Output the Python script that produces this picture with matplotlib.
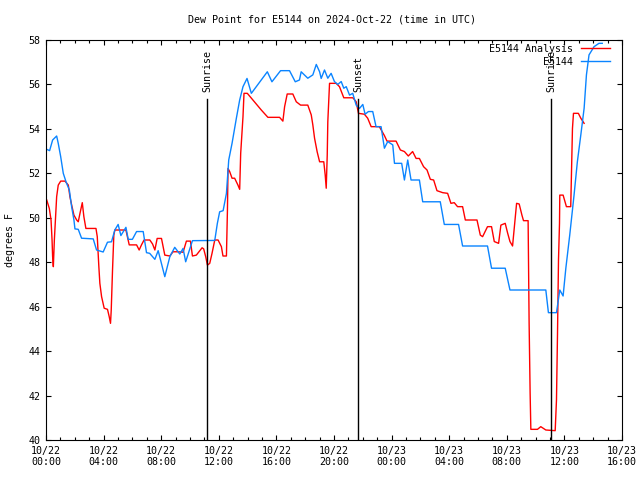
import matplotlib
matplotlib.use("Agg")
from matplotlib import pyplot as plt
from matplotlib.ticker import MultipleLocator

# hours since 2024-10-22 00:00 UTC
obs_hours = [0.05, 0.25, 0.46, 0.74, 0.85, 1.02, 1.2, 1.39, 1.62, 1.78,
             1.94, 2.01, 2.24, 2.47, 3.28, 3.51, 3.97, 4.27, 4.55, 4.78,
             5.01, 5.2, 5.55, 5.71, 6.0, 6.29, 6.75, 6.98, 7.2, 7.56,
             7.79, 8.25, 8.6, 8.94, 9.29, 9.52, 9.7, 10.17, 11.72, 11.9,
             12.06, 12.3, 12.53, 12.69, 12.92, 13.22, 13.45, 13.68, 13.96, 14.26,
             15.37, 15.69, 16.29, 16.91, 17.31, 17.6, 17.72, 18.18, 18.53, 18.77,
             19.0, 19.11, 19.34, 19.57, 19.8, 20.03, 20.26, 20.5, 20.68, 20.85,
             21.08, 21.3, 21.54, 21.77, 22.0, 22.16, 22.39, 22.69, 22.92, 23.27,
             23.5, 23.73, 24.08, 24.2, 24.7, 24.89, 25.12, 25.35, 25.93, 26.16,
             27.38, 27.66, 28.65, 28.93, 30.66, 30.94, 31.89, 32.22, 34.71, 34.89,
             35.45, 35.68, 35.91, 36.1, 36.37, 36.67, 36.9, 37.14, 37.37, 37.53,
             37.71, 38.06, 38.4, 38.63]
obs_dewpt = [53.08, 53.02, 53.5, 53.68, 53.35, 52.75, 52.0, 51.62, 51.25, 50.5,
             49.9, 49.5, 49.48, 49.08, 49.05, 48.55, 48.46, 48.9, 48.92, 49.45,
             49.7, 49.2, 49.57, 49.03, 49.03, 49.38, 49.38, 48.43, 48.4, 48.13,
             48.52, 47.35, 48.25, 48.67, 48.37, 48.62, 48.02, 48.97, 48.98, 49.75,
             50.27, 50.32, 51.1, 52.6, 53.35, 54.48, 55.3, 55.9, 56.27, 55.6,
             56.57, 56.12, 56.62, 56.62, 56.12, 56.2, 56.57, 56.28, 56.43, 56.9,
             56.57, 56.27, 56.65, 56.28, 56.5, 56.13, 56.0, 56.13, 55.83, 55.9,
             55.52, 55.6, 55.07, 54.92, 55.1, 54.66, 54.78, 54.78, 54.1, 54.1,
             53.13, 53.43, 53.28, 52.45, 52.45, 51.7, 52.6, 51.7, 51.7, 50.72,
             50.72, 49.7, 49.7, 48.73, 48.73, 47.73, 47.73, 46.75, 46.75, 45.73,
             45.73, 46.75, 46.48, 47.73, 49.22, 51.02, 52.52, 53.73, 54.93, 56.43,
             57.33, 57.7, 57.85, 57.85]

ana_hours = [0.05, 0.23, 0.35, 0.42, 0.46, 0.51, 0.58, 0.67, 0.74, 0.85,
             1.02, 1.32, 1.55, 1.66, 1.78, 1.94, 2.13, 2.24, 2.36, 2.52,
             2.63, 2.77, 3.47, 3.56, 3.67, 3.74, 3.86, 4.04, 4.27, 4.39,
             4.48, 4.53, 4.62, 4.71, 4.78, 5.55, 5.65, 5.78, 6.29, 6.47,
             6.63, 6.81, 7.21, 7.4, 7.56, 7.72, 8.02, 8.25, 8.6, 8.82,
             9.17, 9.52, 9.75, 10.03, 10.17, 10.44, 10.84, 10.95, 11.09, 11.21,
             11.37, 11.53, 11.72, 11.95, 12.18, 12.29, 12.53, 12.6, 12.64, 12.76,
             12.92, 13.1, 13.33, 13.45, 13.52, 13.68, 13.75, 13.98, 14.37, 14.95,
             15.41, 16.22, 16.45, 16.57, 16.75, 17.14, 17.38, 17.68, 18.18, 18.42,
             18.53, 18.65, 18.83, 19.0, 19.29, 19.39, 19.46, 19.53, 19.57, 19.69,
             20.15, 20.38, 20.68, 21.31, 21.54, 21.7, 22.11, 22.34, 22.58, 23.15,
             23.5, 23.68, 24.31, 24.61, 24.89, 25.16, 25.46, 25.7, 25.93, 26.22,
             26.46, 26.69, 26.92, 27.15, 27.55, 27.89, 28.12, 28.35, 28.58, 28.93,
             29.12, 29.93, 30.16, 30.32, 30.66, 30.94, 31.13, 31.43, 31.59, 31.89,
             32.05, 32.22, 32.4, 32.56, 32.68, 32.86, 33.05, 33.16, 33.48, 33.55,
             33.62, 33.67, 34.13, 34.36, 34.71, 35.36, 35.45, 35.52, 35.59, 35.66,
             35.68, 35.91, 36.14, 36.44, 36.51, 36.56, 36.63, 36.97, 37.14, 37.37]
ana_dewpt = [50.8, 50.42, 49.9, 49.0, 48.25, 47.8, 49.0, 50.05, 50.95, 51.47,
             51.65, 51.65, 51.47, 50.95, 50.58, 50.12, 49.9, 49.82, 50.2, 50.68,
             50.05, 49.52, 49.52, 49.15, 47.8, 47.05, 46.45, 45.93, 45.88, 45.55,
             45.25, 45.85, 47.65, 49.22, 49.45, 49.45, 49.15, 48.78, 48.78, 48.55,
             48.78, 49.0, 49.0, 48.82, 48.55, 49.07, 49.07, 48.32, 48.28, 48.47,
             48.47, 48.45, 48.95, 48.95, 48.28, 48.32, 48.65, 48.6, 48.25, 47.87,
             47.95, 48.4, 49.0, 49.0, 48.7, 48.28, 48.28, 50.35, 52.22, 52.07,
             51.78, 51.78, 51.47, 51.28, 52.9, 54.55, 55.6, 55.6, 55.3, 54.85,
             54.52, 54.52, 54.35, 55.0, 55.57, 55.57, 55.22, 55.07, 55.07, 54.63,
             54.18, 53.58, 52.97, 52.52, 52.52, 51.92, 51.33, 52.82, 54.32, 56.05,
             56.05, 55.9, 55.4, 55.4, 55.22, 54.7, 54.66, 54.48, 54.1, 54.1,
             53.7, 53.45, 53.45, 53.05, 52.98, 52.78, 52.98, 52.67, 52.67, 52.3,
             52.15, 51.73, 51.7, 51.22, 51.13, 51.1, 50.65, 50.68, 50.5, 50.5,
             49.9, 49.9, 49.22, 49.15, 49.6, 49.6, 48.93, 48.85, 49.67, 49.75,
             49.33, 48.93, 48.73, 49.82, 50.65, 50.62, 50.12, 49.87, 49.87, 45.25,
             42.1, 40.48, 40.48, 40.6, 40.45, 40.42, 41.8, 44.73, 48.1, 49.75,
             51.02, 51.02, 50.5, 50.5, 52.52, 54.02, 54.7, 54.7, 54.48, 54.25]

event_hours = [11.2, 21.7, 35.1]
event_names = ["Sunrise", "Sunset", "Sunrise"]

tick_hours = [0, 4, 8, 12, 16, 20, 24, 28, 32, 36, 40]
tick_labels = ["10/22\n00:00", "10/22\n04:00", "10/22\n08:00", "10/22\n12:00",
               "10/22\n16:00", "10/22\n20:00", "10/23\n00:00", "10/23\n04:00",
               "10/23\n08:00", "10/23\n12:00", "10/23\n16:00"]

fs = 7.2
plt.rcParams['font.family'] = ['DejaVu Sans Mono']
plt.rcParams['font.size'] = fs

fig = plt.figure(figsize=(6.4, 4.8), dpi=100)
ax = fig.add_axes([46/640, 40/480, 576/640, 400/480])

ax.plot(ana_hours, ana_dewpt, color='#ff0000', lw=1.0, label='E5144 Analysis')
ax.plot(obs_hours, obs_dewpt, color='#0a84ff', lw=1.0, label='E5144')

for h, name in zip(event_hours, event_names):
    ax.plot([h, h], [55.35, 40], color='black', lw=1.0)
    ax.text(h, 55.66, name, rotation=90, ha='center', va='bottom', fontsize=fs)

ax.set_xlim(0, 40)
ax.set_ylim(40, 58)
ax.set_xticks(tick_hours)
ax.set_xticklabels(tick_labels)
ax.xaxis.set_minor_locator(MultipleLocator(1))
ax.yaxis.set_major_locator(MultipleLocator(2))
ax.tick_params(which='both', direction='in', top=True, right=True, width=0.8)
ax.tick_params(which='major', length=3.6, pad=4)
ax.tick_params(which='minor', length=2.2)
for s in ax.spines.values():
    s.set_linewidth(0.8)

ax.set_ylabel('degrees F')
ax.yaxis.set_label_coords(-0.054, 0.5)

fig.text(332/640, 1 - 19/480, 'Dew Point for E5144 on 2024-Oct-22 (time in UTC)',
         ha='center', va='center', fontsize=fs)

ax.legend(loc='upper right', bbox_to_anchor=(0.986, 1.0), frameon=False,
          markerfirst=False, handlelength=2.9, handletextpad=0.8,
          labelspacing=0.3, borderaxespad=0.0, fontsize=fs)

fig.savefig('out.png', dpi=100)
